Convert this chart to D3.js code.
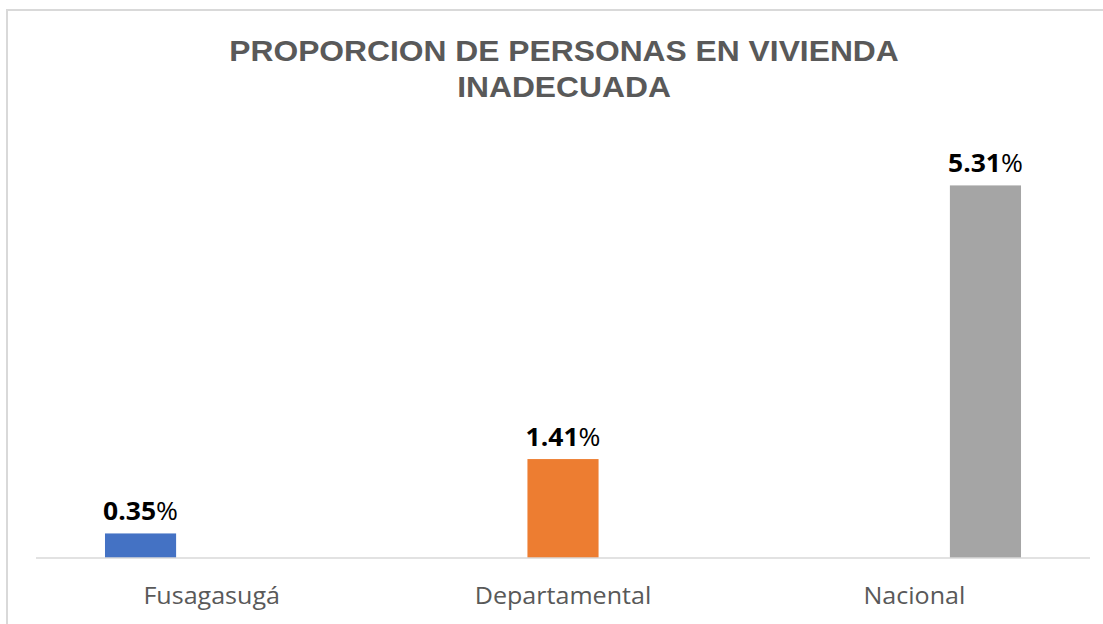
<!DOCTYPE html>
<html>
<head>
<meta charset="utf-8">
<script src="https://cdn.jsdelivr.net/npm/d3@7"></script>
<style>
  body { margin: 0; background: #fff; }
  svg { display: block; }
</style>
</head>
<body>
<div id="chart"></div>
<script>
// chart data
const categories = ["Fusagasugá", "Departamental", "Nacional"];
const values = [0.35, 1.41, 5.31];
const labels = ["0.35", "1.41", "5.31"];
const colors = ["#4472C4", "#ED7D31", "#A5A5A5"];
const titleLines = ["PROPORCION DE PERSONAS EN VIVIENDA", "INADECUADA"];

const width = 1103, height = 624;
const margin = {top: 137, right: 13, bottom: 66, left: 36};
// the source picture is slightly stretched horizontally
const stretch = 1.06;

const svg = d3.select("#chart").append("svg")
    .attr("width", width)
    .attr("height", height);

// chart frame (only top and left edges are visible in the crop)
svg.append("rect")
    .attr("x", 7)
    .attr("y", 10)
    .attr("width", 1130)
    .attr("height", 640)
    .style("fill", "none")
    .style("stroke", "#d9d9d9")
    .style("stroke-width", 2);

// title
svg.append("g")
    .attr("transform", `translate(564,61) scale(${stretch},1)`)
    .append("text")
    .attr("text-anchor", "middle")
    .style("font-family", "'Liberation Sans', Arial, sans-serif")
    .style("font-weight", "bold")
    .style("font-size", "30px")
    .style("fill", "#595959")
    .selectAll("tspan")
    .data(titleLines)
    .enter().append("tspan")
    .attr("x", 0)
    .attr("dy", (d, i) => i === 0 ? 0 : 36)
    .text(d => d);

// scales
const x0 = d3.scaleBand()
    .domain(categories)
    .range([margin.left, width - margin.right])
    .paddingInner(0)
    .paddingOuter(0);

// each category holds one series; series are clustered side by side
const x1 = d3.scaleBand()
    .domain(d3.range(categories.length))
    .range([0, x0.bandwidth()])
    .paddingInner(0.0)
    .paddingOuter(0.97);

const y = d3.scaleLinear()
    .domain([0, 6])
    .range([height - margin.bottom, margin.top]);

const g = svg.append("g");

// bars
g.selectAll("rect.bar")
    .data(values)
    .enter().append("rect")
    .attr("class", "bar")
    .attr("x", (d, i) => x0(categories[i]) + x1(i))
    .attr("y", d => y(d))
    .attr("width", x1.bandwidth())
    .attr("height", d => y(0) - y(d))
    .style("fill", (d, i) => colors[i]);

// baseline
g.append("line")
    .attr("x1", margin.left)
    .attr("x2", width - margin.right)
    .attr("y1", y(0))
    .attr("y2", y(0))
    .style("stroke", "#d9d9d9")
    .style("stroke-width", 1.5);

// data labels
const lab = g.selectAll("text.lab")
    .data(values)
    .enter().append("text")
    .attr("class", "lab")
    .attr("transform", (d, i) =>
        `translate(${x0(categories[i]) + x1(i) + x1.bandwidth() / 2},${y(d) - 13}) scale(${stretch},1)`)
    .attr("text-anchor", "middle")
    .style("font-family", "'Open Sans', sans-serif")
    .style("font-size", "25px")
    .style("fill", "#000");

lab.append("tspan")
    .style("font-weight", "bold")
    .text((d, i) => labels[i]);
lab.append("tspan")
    .text("%");

// category axis labels
g.selectAll("text.cat")
    .data(categories)
    .enter().append("text")
    .attr("class", "cat")
    .attr("transform", d => `translate(${x0(d) + x0.bandwidth() / 2},${y(0) + 46}) scale(1.045,1)`)
    .attr("text-anchor", "middle")
    .style("font-family", "'Open Sans', sans-serif")
    .style("font-size", "24px")
    .style("fill", "#595959")
    .text(d => d);
</script>
</body>
</html>
